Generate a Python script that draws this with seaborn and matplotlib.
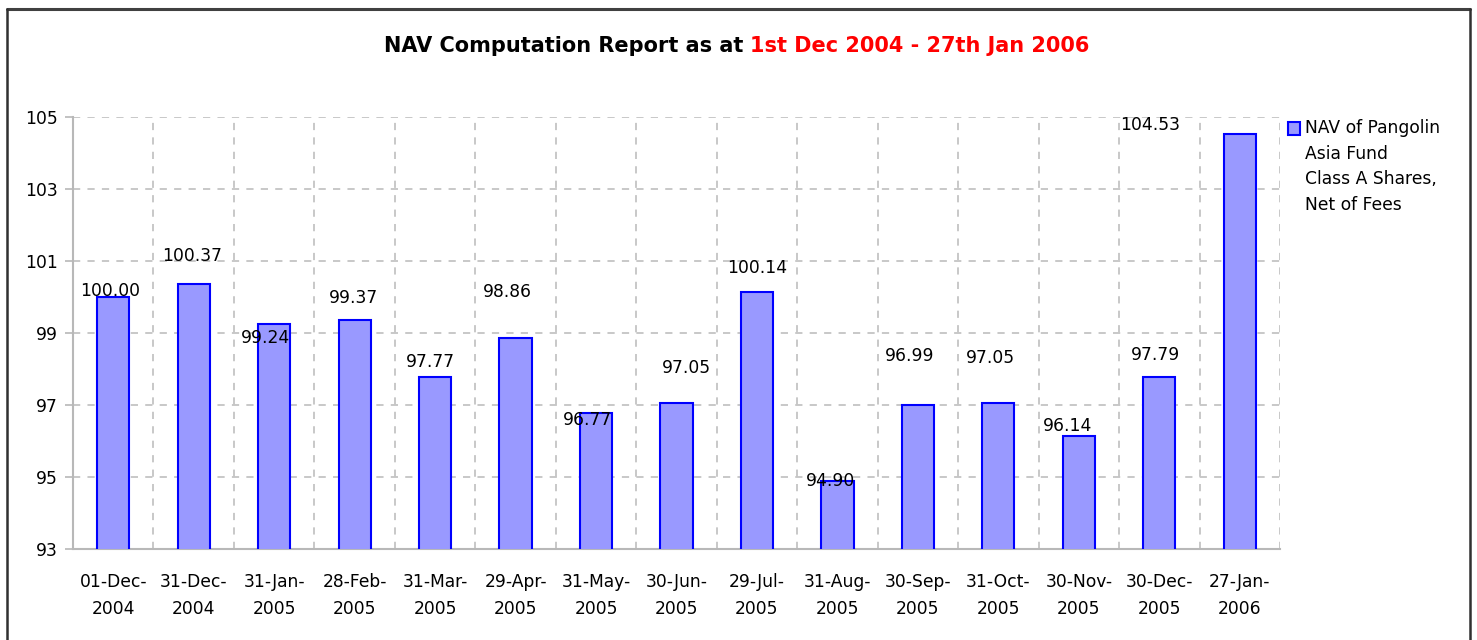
import numpy as np
import pandas as pd
import matplotlib
matplotlib.use("Agg")
import matplotlib.pyplot as plt
from matplotlib.lines import Line2D
from matplotlib.patches import Rectangle
import seaborn as sns

# ---- data ----
dates = ["01-Dec-\n2004", "31-Dec-\n2004", "31-Jan-\n2005", "28-Feb-\n2005", "31-Mar-\n2005",
         "29-Apr-\n2005", "31-May-\n2005", "30-Jun-\n2005", "29-Jul-\n2005", "31-Aug-\n2005",
         "30-Sep-\n2005", "31-Oct-\n2005", "30-Nov-\n2005", "30-Dec-\n2005", "27-Jan-\n2006"]
nav = [100.00, 100.37, 99.24, 99.37, 97.77, 98.86, 96.77, 97.05, 100.14, 94.90,
       96.99, 97.05, 96.14, 97.79, 104.53]
# label placement offsets as seen in the reference (category units, value units)
label_dx = [-0.04, -0.02, -0.11, -0.02, -0.06, -0.10, -0.11, 0.12, 0.0, -0.09,
            -0.10, -0.10, -0.14, -0.05, -1.12]
label_dy = [0.17, 0.77, -0.38, 0.60, 0.42, 1.28, -0.19, 0.98, 0.67, -0.01,
            1.37, 1.26, 0.28, 0.60, 0.25]
series_name = "NAV of Pangolin\nAsia Fund\nClass A Shares,\nNet of Fees"
yticks = [93, 95, 97, 99, 101, 103, 105]

df = pd.DataFrame({"date": dates, "nav": nav})

sns.set_style("white")
plt.rcParams["font.family"] = ["DejaVu Sans"]
plt.rcParams["text.color"] = "black"
plt.rcParams["xtick.labelcolor"] = "black"
plt.rcParams["ytick.labelcolor"] = "black"

BAR_FACE = "#9999ff"
BAR_EDGE = "#0000ff"
FS = 12.3

W, H = 1477, 640
fig = plt.figure(figsize=(W / 100, H / 100), dpi=100)
ax = fig.add_axes([73 / W, 1 - 549 / H, (1280 - 73) / W, (549 - 117) / H])

sns.barplot(data=df, x="date", y="nav", color=BAR_FACE, saturation=1,
            edgecolor=BAR_EDGE, linewidth=1.5, width=0.4, ax=ax, zorder=3,
            label=series_name, legend=False)

ax.set_ylim(93, 105)
ax.set_xlim(-0.5, len(dates) - 0.5)
ax.set_yticks(yticks)
ax.set_xlabel("")
ax.set_ylabel("")

# ticks at category boundaries, labels at centers
ax.set_xticks(np.arange(-0.5, len(dates), 1.0), minor=True)
ax.tick_params(axis="x", which="major", length=0, pad=17, labelsize=FS, labelcolor="black")
ax.tick_params(axis="x", which="minor", length=6, width=1.2, color="#b8b8b8", direction="out")
ax.tick_params(axis="y", which="major", length=6, width=1.2, color="#b8b8b8",
               pad=5, labelsize=FS, labelcolor="black", left=True)
for lab in ax.get_xticklabels():
    lab.set_linespacing(1.65)

ax.grid(False)
ax.yaxis.grid(True, color="#c4c4c4", linestyle=(0, (4, 4)), linewidth=1.3, zorder=0)
ax.xaxis.grid(True, which="minor", color="#c4c4c4", linestyle=(0, (4, 4)), linewidth=1.3, zorder=0)
ax.set_axisbelow(True)

for s in ["top", "right"]:
    ax.spines[s].set_visible(False)
for s in ["left", "bottom"]:
    ax.spines[s].set_color("#b8b8b8")
    ax.spines[s].set_linewidth(1.5)

# value labels
for i, v in enumerate(nav):
    ax.text(i + label_dx[i], v + label_dy[i], f"{v:.2f}", ha="center", va="center",
            fontsize=FS, color="black", zorder=5)

# legend (handle aligned with the first line, as in the reference)
fig.add_artist(Rectangle((1288 / W, 1 - 135 / H), 12 / W, 13 / H, transform=fig.transFigure,
                         facecolor=BAR_FACE, edgecolor=BAR_EDGE, linewidth=1.5))
fig.text(1305 / W, 1 - 119 / H, series_name, ha="left", va="top", fontsize=FS,
         color="black", linespacing=1.55)

# two-colour title
fig.canvas.draw()
r = fig.canvas.get_renderer()
part1 = "NAV Computation Report as at "
part2 = "1st Dec 2004 - 27th Jan 2006"
ty = 1 - 46 / H
t1 = fig.text(0, ty, part1, fontsize=15, fontweight="bold", color="black", va="center", ha="left")
t2 = fig.text(0, ty, part2, fontsize=15, fontweight="bold", color="#ff0000", va="center", ha="left")
w1 = t1.get_window_extent(r).width
w2 = t2.get_window_extent(r).width
x0 = 736.5 - (w1 + w2) / 2
t1.set_x(x0 / W)
t2.set_x((x0 + w1) / W)

# outer frame
fig.add_artist(Line2D([7 / W, 1470 / W], [1 - 9 / H, 1 - 9 / H], color="#404040", linewidth=2.2))
fig.add_artist(Line2D([7 / W, 7 / W], [0, 1 - 9 / H], color="#303030", linewidth=1.8))
fig.add_artist(Line2D([1470 / W, 1470 / W], [0, 1 - 9 / H], color="#303030", linewidth=1.8))

fig.savefig("out.png", dpi=100, facecolor="white")
